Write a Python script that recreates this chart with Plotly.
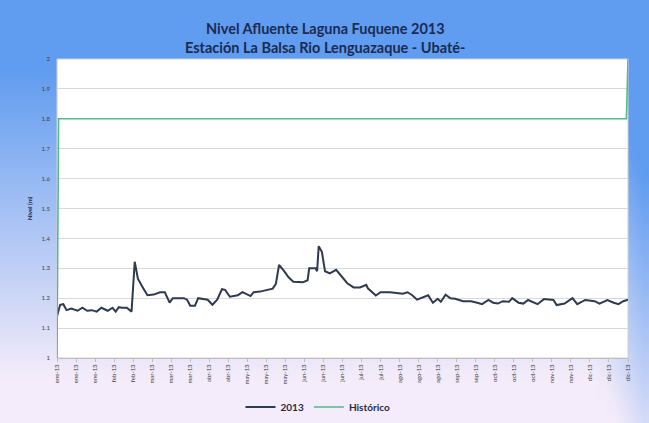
import base64, struct, zlib
import pandas as pd
import plotly.graph_objects as go

# ---------------- data ----------------
dias_2013 = [0, 2, 4, 6, 9, 13, 16, 19, 22, 25, 28, 32, 35, 37, 39, 41, 44, 46, 47, 49,
             51, 54, 57, 61, 65, 68, 71, 73, 80, 82, 84, 87, 89, 95, 98, 101, 104, 106,
             109, 114, 117, 122, 124, 128, 133, 136, 138, 140, 143, 146, 149, 152, 155,
             158, 159, 163, 164, 165, 167, 169, 172, 176, 179, 183, 187, 191, 195, 196,
             201, 204, 210, 218, 221, 224, 227, 231, 234, 237, 240, 242, 245, 248, 251,
             256, 261, 265, 268, 272, 275, 278, 281, 285, 287, 291, 294, 297, 303, 307,
             313, 315, 320, 325, 328, 333, 339, 342, 347, 351, 354, 357, 360]
nivel_2013 = [1.14, 1.178, 1.18, 1.16, 1.165, 1.158, 1.168, 1.158, 1.16, 1.155, 1.168,
              1.158, 1.168, 1.155, 1.17, 1.168, 1.168, 1.16, 1.155, 1.322,
              1.265, 1.237, 1.21, 1.212, 1.22, 1.22, 1.185, 1.2, 1.2, 1.195, 1.175,
              1.175, 1.2, 1.195, 1.178, 1.195, 1.23, 1.228,
              1.205, 1.21, 1.22, 1.207, 1.22, 1.222, 1.227, 1.232, 1.248, 1.311, 1.292,
              1.27, 1.255, 1.253, 1.253,
              1.26, 1.3, 1.3, 1.29, 1.374, 1.355, 1.29, 1.283, 1.295, 1.277, 1.25,
              1.236, 1.236, 1.245, 1.233,
              1.209, 1.22, 1.22, 1.215, 1.22, 1.21, 1.195, 1.205, 1.21, 1.185, 1.198,
              1.188, 1.212, 1.2, 1.198,
              1.19, 1.19, 1.185, 1.18, 1.194, 1.185, 1.182, 1.19, 1.188, 1.2, 1.185,
              1.182, 1.194, 1.18, 1.197,
              1.194, 1.177, 1.182, 1.2, 1.18, 1.194, 1.19, 1.182, 1.194, 1.185, 1.18,
              1.19, 1.195]

dias_historico = [0, 1, 359, 360]
nivel_historico = [1.0, 1.8, 1.8, 2.0]

tick_fechas = ["2013-01-01", "2013-01-13", "2013-01-25", "2013-02-06", "2013-02-18",
               "2013-03-02", "2013-03-14", "2013-03-26", "2013-04-07", "2013-04-19",
               "2013-05-01", "2013-05-13", "2013-05-25", "2013-06-06", "2013-06-18",
               "2013-06-30", "2013-07-12", "2013-07-24", "2013-08-05", "2013-08-17",
               "2013-08-29", "2013-09-10", "2013-09-22", "2013-10-04", "2013-10-16",
               "2013-10-28", "2013-11-09", "2013-11-21", "2013-12-03", "2013-12-15",
               "2013-12-27"]
tick_textos = ["ene-13", "ene-13", "ene-13", "feb-13", "feb-13",
               "mar-13", "mar-13", "mar-13", "abr-13", "abr-13",
               "may-13", "may-13", "may-13", "jun-13", "jun-13",
               "jun-13", "jul-13", "jul-13", "ago-13", "ago-13",
               "ago-13", "sep-13", "sep-13", "oct-13", "oct-13",
               "oct-13", "nov-13", "nov-13", "dic-13", "dic-13",
               "dic-13"]
y_ticks = [1, 1.1, 1.2, 1.3, 1.4, 1.5, 1.6, 1.7, 1.8, 1.9, 2]

inicio = pd.Timestamp("2013-01-01")
fechas_2013 = [inicio + pd.Timedelta(days=d) for d in dias_2013]
fechas_hist = [inicio + pd.Timedelta(days=d) for d in dias_historico]

# ---------------- background gradient image ----------------
def gradient_uri(w=66, h=44):
    blue = (96, 156, 240)
    pale = (244, 236, 250)
    rows = []
    for j in range(h):
        y = j / (h - 1)
        row = bytearray([0])
        for i in range(w):
            x = i / (w - 1)
            b = (0.9 - y) / 0.75 + max(0.0, x - 0.93) * 5
            b = min(1.0, max(0.0, b))
            for c in range(3):
                row.append(int(pale[c] + (blue[c] - pale[c]) * b))
        rows.append(bytes(row))
    raw = b"".join(rows)

    def chunk(tag, data):
        return (struct.pack(">I", len(data)) + tag + data +
                struct.pack(">I", zlib.crc32(tag + data) & 0xffffffff))
    png = (b"\x89PNG\r\n\x1a\n" +
           chunk(b"IHDR", struct.pack(">IIBBBBB", w, h, 8, 2, 0, 0, 0)) +
           chunk(b"IDAT", zlib.compress(raw, 9)) +
           chunk(b"IEND", b""))
    return "data:image/png;base64," + base64.b64encode(png).decode()

W, H = 649, 423
L, R, T, B = 57, 21, 59, 65
pw, ph = W - L - R, H - T - B

fig = go.Figure()
fig.add_trace(go.Scatter(x=fechas_2013, y=nivel_2013, mode="lines", name="<b>2013</b>",
                         line=dict(color="#2E3A4E", width=2)))
fig.add_trace(go.Scatter(x=fechas_hist, y=nivel_historico, mode="lines", name="<b>Histórico</b>",
                         line=dict(color="#55B98A", width=1.6)))

fig.update_layout(
    width=W, height=H,
    margin=dict(l=L, r=R, t=T, b=B, autoexpand=False),
    paper_bgcolor="#B9CFF2",
    plot_bgcolor="white",
    font=dict(family="Lato, Open Sans, sans-serif", color="#404040"),
    showlegend=True,
    legend=dict(orientation="h", x=(318 - L) / pw, xanchor="center", y=-0.164, yanchor="middle",
                font=dict(size=10, color="#1F2A44", family="Lato, sans-serif"),
                bgcolor="rgba(0,0,0,0)", itemwidth=30, tracegroupgap=0),
    images=[dict(source=gradient_uri(), xref="paper", yref="paper",
                 x=-L / pw, y=1 + T / ph, sizex=W / pw, sizey=H / ph,
                 xanchor="left", yanchor="top", sizing="stretch", layer="below")],
    shapes=[dict(type="rect", xref="paper", yref="paper", x0=0, x1=1, y0=0, y1=1,
                 fillcolor="white", line=dict(color="#D0D0D0", width=1), layer="below")],
    annotations=[
        dict(text="<b>Nivel Afluente Laguna Fuquene 2013</b>", xref="paper", yref="paper",
             x=(325 - L) / pw, y=1 + (T - 18) / ph, showarrow=False,
             font=dict(size=14.5, color="#1B2B52", family="Lato, sans-serif")),
        dict(text="<b>Estación La Balsa Rio Lenguazaque - Ubaté-</b>", xref="paper", yref="paper",
             x=(325 - L) / pw, y=1 + (T - 37) / ph, showarrow=False,
             font=dict(size=14.5, color="#1B2B52", family="Lato, sans-serif")),
    ],
)
fig.update_xaxes(type="date", range=[inicio, inicio + pd.Timedelta(days=360)],
                 tickmode="array", tickvals=tick_fechas, ticktext=tick_textos,
                 tickangle=-90, tickfont=dict(size=6, color="#404040"),
                 showgrid=False, showline=True, linecolor="#BFBFBF", linewidth=1,
                 ticks="outside", ticklen=3, tickcolor="#BFBFBF", zeroline=False)
fig.update_yaxes(range=[1, 2], tickmode="array", tickvals=y_ticks,
                 ticktext=[str(v) for v in y_ticks],
                 tickfont=dict(size=6, color="#404040"),
                 showgrid=True, gridcolor="#D9D9D9", gridwidth=1,
                 showline=False, zeroline=False, ticks="", ticklabelstandoff=6,
                 title=dict(text="<b>Nivel (m)</b>", font=dict(size=6, color="#1F2A44"),
                            standoff=8))

fig.write_html("out.html", config={"displayModeBar": False},
               post_script="document.body.style.margin='0';document.body.style.overflow='hidden';")
